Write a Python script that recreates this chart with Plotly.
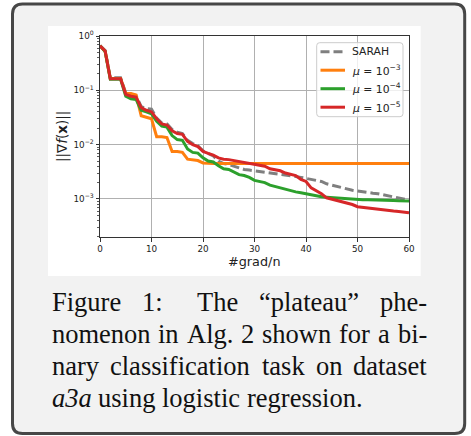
import plotly.graph_objects as go

# ---------------- data ----------------
grad_n = list(range(61))

sarah = [0.67, 0.54, 0.17, 0.17, 0.17, 0.09, 0.085, 0.08, 0.05, 0.046,
         0.045, 0.031, 0.025, 0.024, 0.019, 0.017, 0.016, 0.012, 0.0105, 0.0095,
         0.0077, 0.0070, 0.0062, 0.0050, 0.0045, 0.0043, 0.0040, 0.0037, 0.0035, 0.0034,
         0.0033, 0.0032, 0.0031, 0.0030, 0.0030, 0.0029, 0.0028, 0.0027, 0.0026, 0.0025,
         0.0024, 0.0023, 0.0022, 0.0021, 0.0019, 0.0018, 0.0017, 0.0016, 0.0015, 0.00145,
         0.0014, 0.00135, 0.0013, 0.00128, 0.00125, 0.0012, 0.00115, 0.0011, 0.00105, 0.0010,
         0.00095]

mu_1e3 = [0.66, 0.52, 0.165, 0.165, 0.165, 0.087, 0.087, 0.082, 0.034, 0.032,
          0.030, 0.014, 0.014, 0.0135, 0.0075, 0.0075, 0.0072, 0.0054, 0.0053, 0.0051,
          0.0046, 0.0045, 0.0045, 0.0045, 0.0045, 0.0045, 0.0045, 0.0045, 0.0045, 0.0045,
          0.0045, 0.0045, 0.0045, 0.0045, 0.0045, 0.0045, 0.0045, 0.0045, 0.0045, 0.0045,
          0.0045, 0.0045, 0.0045, 0.0045, 0.0045, 0.0045, 0.0045, 0.0045, 0.0045, 0.0045,
          0.0045, 0.0045, 0.0045, 0.0045, 0.0045, 0.0045, 0.0045, 0.0045, 0.0045, 0.0045,
          0.0045]

mu_1e4 = [0.66, 0.52, 0.16, 0.16, 0.16, 0.078, 0.070, 0.068, 0.043, 0.040,
          0.037, 0.027, 0.022, 0.021, 0.0147, 0.0124, 0.012, 0.0083, 0.0072, 0.0070,
          0.0057, 0.0050, 0.0048, 0.0041, 0.0036, 0.0035, 0.0031, 0.0028, 0.0027, 0.0025,
          0.0022, 0.0021, 0.0020, 0.0018, 0.0017, 0.00158, 0.0015, 0.0014, 0.00135, 0.0013,
          0.00125, 0.00118, 0.00113, 0.0011, 0.00108, 0.00106, 0.00104, 0.00102, 0.0010, 0.00099,
          0.00098, 0.00097, 0.00097, 0.00097, 0.00096, 0.00096, 0.00095, 0.00094, 0.00093, 0.00093,
          0.00092]

mu_1e5 = [0.66, 0.53, 0.163, 0.163, 0.163, 0.084, 0.078, 0.075, 0.048, 0.043,
          0.040, 0.030, 0.024, 0.023, 0.018, 0.016, 0.0155, 0.0115, 0.010, 0.0092,
          0.0075, 0.0069, 0.0064, 0.0057, 0.0054, 0.0053, 0.0051, 0.0049, 0.0047, 0.0046,
          0.0044, 0.0042, 0.0040, 0.0036, 0.0034, 0.0033, 0.0030, 0.0028, 0.0027, 0.0023,
          0.0021, 0.0016, 0.0014, 0.00125, 0.00105, 0.00099, 0.00095, 0.00087, 0.00083, 0.00079,
          0.00072, 0.00070, 0.00069, 0.00067, 0.00064, 0.00063, 0.00062, 0.00060, 0.00059, 0.00058,
          0.00056]

series_names = ["SARAH", "<i>μ</i> = 10<sup>−3</sup>", "<i>μ</i> = 10<sup>−4</sup>", "<i>μ</i> = 10<sup>−5</sup>"]
x_ticks = [0, 10, 20, 30, 40, 50, 60]
y_tickvals = [1, 0.1, 0.01, 0.001]
y_ticktext = ["10<sup>0</sup>", "10<sup>−1</sup>", "10<sup>−2</sup>", "10<sup>−3</sup>"]
y_minor = [m * 10 ** e for e in (-4, -3, -2, -1) for m in range(2, 10)]
x_title = "#grad/n"
y_title = "||∇<i>f</i>(<b>x</b>)||"

caption_lines = [
    ["Figure", "1:", "The", "“plateau”", "phe-"],
    ["nomenon", "in", "Alg.", "2", "shown", "for", "a", "bi-"],
    ["nary", "classification", "task", "on", "dataset"],
    ["<i>a3a</i>", "using", "logistic", "regression."],
]

# ---------------- layout geometry ----------------
W, H = 471, 436
ML, MR, MT, MB = 100, 62, 36, 199
PW, PH = W - ML - MR, H - MT - MB


def PX(px):
    return (px - ML) / PW


def PY(py):
    return 1 - (py - MT) / PH


colors = ["#7f7f7f", "#ff7f0e", "#2ca02c", "#d62728"]
dashes = ["9px,4px", "solid", "solid", "solid"]
data = [sarah, mu_1e3, mu_1e4, mu_1e5]

fig = go.Figure()
for name, vals, col, dsh in zip(series_names, data, colors, dashes):
    fig.add_trace(go.Scatter(
        x=grad_n, y=vals, mode="lines", name=name, showlegend=False,
        line=dict(color=col, width=3, dash=dsh),
    ))


def pt(a, b):
    return f"{PX(a):.5f},{PY(b):.5f}"


def rounded(x0, y0, x1, y1, r):
    return (f"M {pt(x0 + r, y0)} L {pt(x1 - r, y0)} Q {pt(x1, y0)} {pt(x1, y0 + r)} "
            f"L {pt(x1, y1 - r)} Q {pt(x1, y1)} {pt(x1 - r, y1)} "
            f"L {pt(x0 + r, y1)} Q {pt(x0, y1)} {pt(x0, y1 - r)} "
            f"L {pt(x0, y0 + r)} Q {pt(x0, y0)} {pt(x0 + r, y0)} Z")


# ---------------- background shapes ----------------
shapes = [
    dict(type="path", xref="paper", yref="paper", path=rounded(12.5, 4.0, 464.7, 433.5, 10.0),
         layer="below", fillcolor="#f2f2f2", line=dict(color="#474747", width=3)),
    dict(type="rect", xref="paper", yref="paper", layer="below",
         x0=PX(48), x1=PX(420.7), y0=PY(276), y1=PY(26),
         fillcolor="white", line=dict(width=0)),
]

# ---------------- legend (drawn in matplotlib style) ----------------
shapes.append(dict(type="path", xref="paper", yref="paper", layer="above",
                   path=rounded(316.7, 42.7, 403, 116.7, 3),
                   fillcolor="rgba(255,255,255,0.8)", line=dict(color="#cccccc", width=1)))
legend_rows = [51.7, 70.2, 88.7, 107.2]
annotations = []
for name, col, dsh, ry in zip(series_names, colors, dashes, legend_rows):
    shapes.append(dict(type="line", xref="paper", yref="paper", layer="above",
                       x0=PX(320.5), x1=PX(345), y0=PY(ry), y1=PY(ry),
                       line=dict(color=col, width=3, dash=dsh)))
    annotations.append(dict(xref="paper", yref="paper", x=PX(351.5), y=PY(ry),
                            xanchor="left", yanchor="middle", text=name, showarrow=False,
                            borderpad=0, borderwidth=0,
                            font=dict(family="DejaVu Sans", size=10.8, color="#222")))

# ---------------- caption (justified word by word) ----------------
TW = {' ': 250, 'a': 444, 'b': 500, 'c': 444, 'd': 500, 'e': 444, 'f': 333, 'g': 500,
      'h': 500, 'i': 278, 'k': 500, 'l': 278, 'm': 778, 'n': 500, 'o': 500, 'p': 500,
      'r': 333, 's': 389, 't': 278, 'u': 500, 'w': 722, 'y': 500, 'A': 722, 'F': 556,
      'T': 611, '1': 500, '2': 500, '3': 500, ':': 278, '.': 250, '-': 333,
      '“': 444, '”': 444}
FS = 26.5


def wwidth(w):
    plain = w.replace("<i>", "").replace("</i>", "")
    extra = 56 * 2 if "<i>" in w else 0
    return (sum(TW.get(c, 500) for c in plain) + extra) / 1000 * FS


LEFT, RIGHT = 52, 427
baselines = [310.7, 342.7, 374.7, 406.7]
gap_weights = [[1, 1.6, 1, 1], None, None, None]
for li, words in enumerate(caption_lines):
    widths = [wwidth(w) for w in words]
    if li < 3:
        wts = gap_weights[li] or [1] * (len(words) - 1)
        extra = (RIGHT - LEFT) - sum(widths)
        unit = extra / sum(wts)
        gaps = [unit * g for g in wts]
    else:
        gaps = [0.25 * FS] * (len(words) - 1)
    xpos = LEFT
    for wi, w in enumerate(words):
        if li < 3 and wi == len(words) - 1:
            ax, anchor = PX(RIGHT), "right"
        else:
            ax, anchor = PX(xpos), "left"
        annotations.append(dict(
            xref="paper", yref="paper", x=ax, y=PY(baselines[li] - 9.0),
            xanchor=anchor, yanchor="middle", text=w, showarrow=False,
            borderpad=0, borderwidth=0,
            font=dict(family="Liberation Serif", size=FS, color="#111111")))
        if wi < len(words) - 1:
            xpos += widths[wi] + gaps[wi]

annotations.append(dict(xref="paper", yref="paper", x=PX(254.5), y=PY(261.5),
                        xanchor="center", yanchor="middle", text=x_title, showarrow=False,
                        font=dict(family="DejaVu Sans", size=12.8, color="#222")))
annotations.append(dict(xref="paper", yref="paper", x=PX(62), y=PY(137),
                        xanchor="center", yanchor="middle", text=y_title, showarrow=False,
                        textangle=-90,
                        font=dict(family="DejaVu Sans", size=13.5, color="#222")))

fig.update_layout(
    width=W, height=H,
    margin=dict(l=ML, r=MR, t=MT, b=MB, pad=0, autoexpand=False),
    paper_bgcolor="white", plot_bgcolor="white",
    font=dict(family="DejaVu Sans", color="#222"),
    shapes=shapes, annotations=annotations,
    showlegend=False,
    xaxis=dict(range=[0, 60], tickmode="array", tickvals=x_ticks,
               showgrid=True, gridcolor="#b0b0b0", gridwidth=1,
               showline=True, mirror=True, linecolor="#333", linewidth=1,
               ticks="outside", ticklen=3.5, tickcolor="#333", tickwidth=1,
               tickfont=dict(family="DejaVu Sans", size=8.8, color="#222"),
               zeroline=False, automargin=False),
    yaxis=dict(type="log", range=[-3.7, 0], tickmode="array",
               tickvals=y_tickvals, ticktext=y_ticktext,
               showgrid=True, gridcolor="#b0b0b0", gridwidth=1,
               showline=True, mirror=True, linecolor="#333", linewidth=1,
               ticks="outside", ticklen=3.5, tickcolor="#333", tickwidth=1,
               tickfont=dict(family="DejaVu Sans", size=8.8, color="#222"),
               minor=dict(tickmode="array", tickvals=y_minor, ticks="outside",
                          ticklen=2, tickcolor="#333", tickwidth=0.8, showgrid=False),
               zeroline=False, automargin=False),
)

fig.write_html("out.html", config={"displayModeBar": False, "staticPlot": True},
               post_script="document.body.style.margin='0';document.body.style.overflow='hidden';")
